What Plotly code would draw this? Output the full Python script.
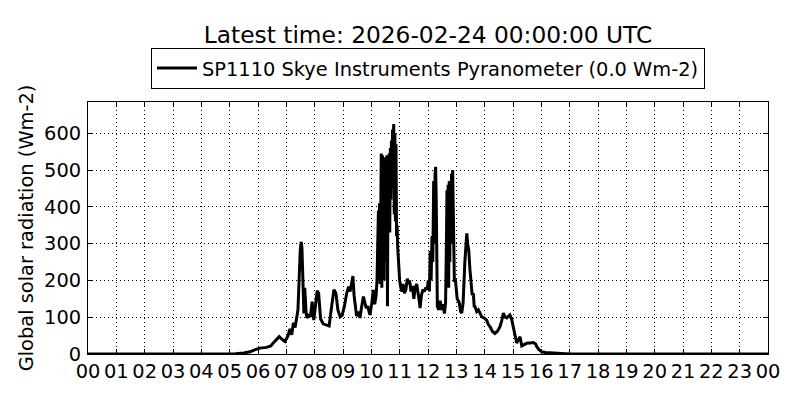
import plotly.graph_objects as go

# time in hours since 00 UTC, global solar radiation in Wm-2
hours = [0, 5.0, 5.2, 5.5, 5.72, 5.9, 6.07, 6.3, 6.45, 6.6, 6.75, 6.85, 6.95, 7.05, 7.13, 7.19,
         7.25, 7.31, 7.37, 7.41, 7.44, 7.46, 7.49, 7.52, 7.55, 7.57, 7.60, 7.62, 7.65, 7.67,
         7.70, 7.73, 7.78, 7.85, 7.91, 7.97, 8.03, 8.09, 8.14, 8.21, 8.3, 8.39, 8.51, 8.6,
         8.68, 8.75, 8.82, 8.9, 8.97, 9.05, 9.13, 9.2, 9.25, 9.3, 9.35, 9.39, 9.43, 9.48,
         9.55, 9.6, 9.65, 9.72, 9.77, 9.82, 9.87, 9.95, 10.02, 10.07, 10.12, 10.17, 10.2,
         10.23, 10.25, 10.27, 10.29, 10.31, 10.33, 10.35, 10.37, 10.39, 10.41, 10.43, 10.45,
         10.47, 10.49, 10.51, 10.53, 10.55, 10.57, 10.59, 10.61, 10.63, 10.65, 10.67, 10.69,
         10.71, 10.73, 10.75, 10.77, 10.79, 10.81, 10.83, 10.85, 10.87, 10.89, 10.91, 10.93,
         10.96, 11.0, 11.04, 11.08, 11.12, 11.17, 11.22, 11.27, 11.31, 11.35, 11.4, 11.45,
         11.5, 11.55, 11.6, 11.65, 11.7, 11.72, 11.77, 11.82, 11.87, 11.92, 11.97, 12.01,
         12.05, 12.08, 12.11, 12.14, 12.17, 12.2, 12.23, 12.25, 12.27, 12.29, 12.31, 12.33,
         12.38, 12.43, 12.48, 12.53, 12.58, 12.62, 12.65, 12.67, 12.69, 12.71, 12.73, 12.75,
         12.77, 12.79, 12.81, 12.83, 12.85, 12.87, 12.89, 12.91, 12.93, 12.97, 13.03, 13.1,
         13.15, 13.19, 13.24, 13.3, 13.34, 13.37, 13.4, 13.44, 13.48, 13.52, 13.56, 13.6,
         13.63, 13.66, 13.72, 13.78, 13.84, 13.9, 13.98, 14.07, 14.13, 14.19, 14.27, 14.36,
         14.45, 14.54, 14.6, 14.66, 14.72, 14.78, 14.84, 14.89, 14.95, 15.01, 15.07, 15.13,
         15.2, 15.25, 15.31, 15.4, 15.48, 15.6, 15.72, 15.8, 15.84, 15.92, 16.01, 16.15,
         16.3, 16.6, 17.0, 24.0]
radiation = [0, 0, 1, 3, 6, 12, 16, 18, 22, 35, 47, 40, 34, 48, 68, 52,
             85, 72, 105, 120, 180, 247, 280, 305, 290, 240, 150, 110, 180, 147,
             110, 98, 105, 101, 142, 92, 130, 172, 165, 95, 82, 79, 76, 130,
             175, 165, 120, 101, 105, 130, 165, 183, 170, 190, 212, 160, 130, 103,
             115, 98, 125, 156, 140, 125, 130, 106, 140, 174, 135, 160, 200,
             300, 390, 250, 410, 190, 350, 545, 180, 540, 300, 530, 200,
             535, 350, 530, 250, 540, 130, 520, 380, 545, 330, 560, 420,
             580, 450, 610, 560, 625, 380, 600, 360, 570, 320, 350, 290,
             250, 200, 180, 170, 190, 165, 175, 205, 190, 200, 170, 185,
             150, 180, 190, 170, 140, 125, 160, 175, 170, 180, 175, 200,
             170, 280, 200, 320, 250, 470, 300, 490, 509, 420, 200, 129,
             120, 145, 120, 135, 110, 140, 300, 445, 200, 460, 180, 470,
             250, 465, 300, 490, 420, 500, 400, 300, 200, 200, 150, 140,
             115, 111, 140, 250, 310, 328, 300, 280, 230, 193, 160, 165,
             130, 129, 115, 120, 108, 101, 98, 92, 80, 74, 62, 56,
             62, 74, 90, 111, 100, 98, 103, 106, 95, 74, 50, 30,
             40, 47, 22, 25, 29, 30, 31, 27, 20, 12, 6, 4,
             3, 1, 0, 0]

tick_hours = list(range(0, 25))
tick_labels = ["%02d" % (h % 24) for h in tick_hours]
y_ticks = [0, 100, 200, 300, 400, 500, 600]

FONT = "DejaVu Sans"
FS = 19.4

fig = go.Figure()
fig.add_trace(go.Scatter(
    x=hours, y=radiation, mode="lines",
    line=dict(color="black", width=3),
    name="SP1110 Skye Instruments Pyranometer (0.0 Wm-2)",
    showlegend=True,
))

axis_common = dict(
    showline=True, linecolor="black", linewidth=1, mirror="ticks",
    ticks="inside", ticklen=5, tickcolor="black", tickwidth=1,
    showgrid=True, gridcolor="black", gridwidth=1, griddash="1px,3px",
    zeroline=False,
    tickfont=dict(family=FONT, size=FS, color="black"),
)

fig.update_layout(
    width=792, height=392,
    margin=dict(l=80, r=32, t=94, b=46),
    paper_bgcolor="white", plot_bgcolor="white",
    font=dict(family=FONT, color="black"),
    title=dict(text="Latest time: 2026-02-24 00:00:00 UTC",
               font=dict(family=FONT, size=23.3, color="black"),
               x=0.5, xanchor="center", xref="paper",
               y=1 - 27 / 392, yanchor="middle", yref="container"),
    legend=dict(x=0.5, xanchor="center", y=1.052, yanchor="bottom",
                bordercolor="black", borderwidth=1, bgcolor="white",
                font=dict(family=FONT, size=FS, color="black"),
                itemwidth=40),
    xaxis=dict(range=[0, 24], tickvals=tick_hours, ticktext=tick_labels, **axis_common),
    yaxis=dict(range=[0, 685], tickvals=y_ticks, ticklabelstandoff=2,
               title=dict(text="Global solar radiation (Wm-2)",
                          font=dict(family=FONT, size=FS, color="black"),
                          standoff=5),
               **axis_common),
)

fig.write_html("out.html")
